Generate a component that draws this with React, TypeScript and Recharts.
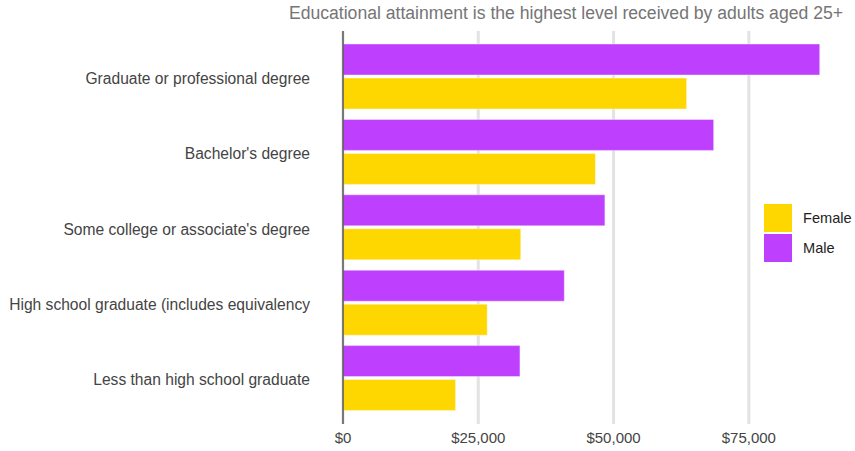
import {
  BarChart,
  Bar,
  XAxis,
  YAxis,
  CartesianGrid,
  Legend,
} from "recharts";

const categories = [
  "Graduate or professional degree",
  "Bachelor's degree",
  "Some college or associate's degree",
  "High school graduate (includes equivalency",
  "Less than high school graduate",
];
const maleEarnings = [88100, 68500, 48400, 40900, 32700];
const femaleEarnings = [63500, 46650, 32850, 26650, 20800];
const xTicks = [0, 25000, 50000, 75000];

const seriesNames = { female: "Female", male: "Male" };
const colors = { female: "#FFD700", male: "#BF3FFF" };

const title =
  "Educational attainment is the highest level received by adults aged 25+";

const data = categories.map((c, i) => ({
  category: c,
  male: maleEarnings[i],
  female: femaleEarnings[i],
}));

const font = "'Liberation Sans', Arial, sans-serif";

function LegendBox() {
  const items = [
    { name: seriesNames.female, color: colors.female },
    { name: seriesNames.male, color: colors.male },
  ];
  return (
    <div style={{ fontFamily: font, fontSize: 14.6, color: "#222" }}>
      {items.map((it) => (
        <div
          key={it.name}
          style={{ display: "flex", alignItems: "center", height: 30 }}
        >
          <span
            style={{
              display: "inline-block",
              width: 28,
              height: 28,
              background: it.color,
              marginRight: 11,
            }}
          />
          {it.name}
        </div>
      ))}
    </div>
  );
}

export default function App() {
  return (
    <div
      style={{
        position: "absolute",
        left: 0,
        top: 0,
        width: 855,
        height: 451,
        background: "#fff",
        fontFamily: font,
      }}
    >
      <div
        style={{
          position: "absolute",
          right: 12,
          top: 3,
          fontSize: 17.6,
          color: "#757575",
          whiteSpace: "nowrap",
        }}
      >
        {title}
      </div>
      <BarChart
        width={855}
        height={451}
        data={data}
        layout="vertical"
        margin={{ top: 31, right: 25, bottom: 0, left: 0 }}
        barSize={31}
        barGap={3}
      >
        <CartesianGrid
          horizontal={false}
          verticalValues={xTicks}
          stroke="#e3e3e3"
          strokeWidth={3}
        />
        <XAxis
          type="number"
          domain={[0, 90000]}
          ticks={xTicks}
          tickFormatter={(v) => `$${Number(v).toLocaleString("en-US")}`}
          axisLine={false}
          tickLine={false}
          tickSize={0}
          tickMargin={8}
          height={27}
          tick={{ fontSize: 15, fill: "#444", fontFamily: font }}
        />
        <YAxis
          type="category"
          dataKey="category"
          width={343}
          padding={{ top: 8, bottom: 8 }}
          tickLine={false}
          tickSize={0}
          tickMargin={33}
          axisLine={{ stroke: "#555", strokeWidth: 1.5 }}
          tick={{ fontSize: 15.6, fill: "#444", fontFamily: font, dy: 1.5 }}
        />
        <Legend
          layout="vertical"
          align="center"
          verticalAlign="middle"
          wrapperStyle={{ left: 764, top: 203, width: 90 }}
          content={() => <LegendBox />}
        />
        <Bar
          dataKey="male"
          name={seriesNames.male}
          fill={colors.male}
          stroke="#ffffff"
          strokeOpacity={0.4}
          isAnimationActive={false}
        />
        <Bar
          dataKey="female"
          name={seriesNames.female}
          fill={colors.female}
          stroke="#ffffff"
          strokeOpacity={0.4}
          isAnimationActive={false}
        />
      </BarChart>
    </div>
  );
}
